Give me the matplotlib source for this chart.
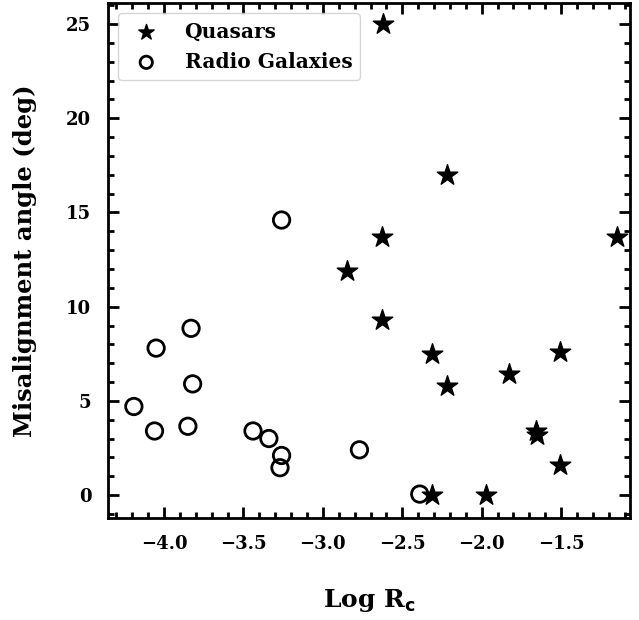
import matplotlib
matplotlib.use("Agg")
import matplotlib.pyplot as plt
from matplotlib.ticker import MultipleLocator

# quasars
q_logrc = [-2.62, -2.22, -1.15, -2.63, -2.85, -2.63, -2.31, -2.22, -1.83, -1.51,
           -1.66, -1.65, -1.51, -2.31, -1.97]
q_angle = [25.0, 17.0, 13.7, 13.7, 11.9, 9.3, 7.5, 5.8, 6.4, 7.6,
           3.4, 3.2, 1.6, 0.0, 0.0]

# radio galaxies
rg_logrc = [-3.83, -4.05, -3.82, -4.19, -4.06, -3.85, -3.44, -3.34, -3.26, -3.27,
            -3.26, -2.77, -2.39]
rg_angle = [8.85, 7.8, 5.9, 4.7, 3.4, 3.65, 3.4, 3.0, 2.1, 1.45,
            14.6, 2.4, 0.05]

plt.rcParams['font.family'] = 'DejaVu Serif'
plt.rcParams['font.weight'] = 'bold'
plt.rcParams['axes.labelweight'] = 'bold'

fig = plt.figure(figsize=(6.39, 6.2), dpi=100)
ax = fig.add_axes([0.169, 0.1645, 0.817, 0.83])

ax.scatter(q_logrc, q_angle, marker='*', s=240, c='black', label='Quasars', zorder=3)
ax.scatter(rg_logrc, rg_angle, marker='o', s=140, facecolors='none', edgecolors='black',
           linewidths=2, label='Radio Galaxies', zorder=3)

ax.set_xlim(-4.353, -1.066)
ax.set_ylim(-1.22, 26.1)
ax.xaxis.set_major_locator(MultipleLocator(0.5))
ax.xaxis.set_minor_locator(MultipleLocator(0.1))
ax.yaxis.set_major_locator(MultipleLocator(5))
ax.yaxis.set_minor_locator(MultipleLocator(1))
ax.tick_params(which='both', direction='in', top=True, right=True, width=2, labelsize=13, pad=12)
ax.tick_params(which='major', length=8)
ax.tick_params(which='minor', length=4)
for sp in ax.spines.values():
    sp.set_linewidth(2)

ax.set_xlabel(r'Log R$_\mathbf{c}$', fontsize=18, labelpad=25)
ax.set_ylabel('Misalignment angle (deg)', fontsize=17.5, labelpad=21)

ax.legend(loc='upper left', prop={'size': 14.5, 'weight': 'bold'}, markerscale=0.75,
          handletextpad=0.9, borderpad=0.4, labelspacing=0.5)

fig.savefig('out.png', dpi=100)
